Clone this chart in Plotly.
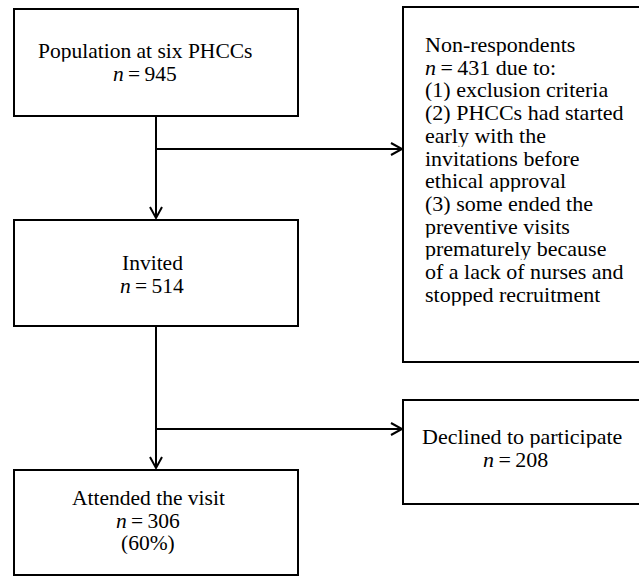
import plotly.graph_objects as go

# ---- data ----
stage_labels = ["Population at six PHCCs", "Invited", "Attended the visit"]
stage_n = [945, 514, 306]
attended_pct = ["(60%)"]
nonresp_n = [431]
nonresp_reasons = [
    "(1) exclusion criteria",
    "(2) PHCCs had started",
    "early with the",
    "invitations before",
    "ethical approval",
    "(3) some ended the",
    "preventive visits",
    "prematurely because",
    "of a lack of nurses and",
    "stopped recruitment",
]
declined_label = ["Declined to participate"]
declined_n = [208]

# ---- layout geometry (pixels of the 639x576 window) ----
W, H = 639, 576
FAM = "Liberation Serif, Times New Roman, serif"
FONT_L = dict(family=FAM, size=21.5, color="black")
FONT_R = dict(family=FAM, size=22, color="black")
LW = 2
LINE_H = 22.7

def nlabel(v):
    return "<i>n</i>\u2009=\u2009" + str(v)

fig = go.Figure()
shapes = []
annotations = []

def box(x0, y0, x1, y1):
    shapes.append(dict(type="rect", x0=x0, y0=y0, x1=x1, y1=y1, xref="x", yref="y",
                       line=dict(color="black", width=LW), fillcolor="rgba(0,0,0,0)"))

def line(x0, y0, x1, y1):
    shapes.append(dict(type="line", x0=x0, y0=y0, x1=x1, y1=y1, xref="x", yref="y",
                       line=dict(color="black", width=LW)))

def arrow_down(x, y):
    shapes.append(dict(type="path", path=f"M {x-6},{y-11} L {x},{y} L {x+6},{y-11}",
                       xref="x", yref="y", line=dict(color="black", width=LW)))

def arrow_right(x, y):
    shapes.append(dict(type="path", path=f"M {x-11},{y-6} L {x},{y} L {x-11},{y+6}",
                       xref="x", yref="y", line=dict(color="black", width=LW)))

def text(x, y, s, font, align="center"):
    annotations.append(dict(x=x, y=y, xref="x", yref="y", text=s, showarrow=False,
                            xanchor={"center": "center", "left": "left"}[align],
                            yanchor="middle", font=font, height=LINE_H - 1,
                            borderpad=0))

# left column boxes
left_boxes = [(14, 9, 298, 116), (14, 220, 298, 326), (14, 470, 298, 575)]
centers = [145, 152, 148]
first_line_y = [51, 263, 498]
for (x0, y0, x1, y1), cx, fy, lab, n in zip(left_boxes, centers, first_line_y, stage_labels, stage_n):
    box(x0, y0, x1, y1)
    text(cx, fy, lab, FONT_L)
    text(cx, fy + LINE_H, nlabel(n), FONT_L)
text(centers[2], first_line_y[2] + 2 * LINE_H, attended_pct[0], FONT_L)

# right boxes (extend past the right edge)
box(403, 7, 700, 362)
box(403, 400, 700, 504)

nr_lines = ["Non-respondents", nlabel(nonresp_n[0]) + " due to:"] + nonresp_reasons
for i, s in enumerate(nr_lines):
    text(424, 45 + i * LINE_H, s, FONT_R, align="left")

text(421, 437, declined_label[0], FONT_R, align="left")
text(482, 437 + LINE_H, nlabel(declined_n[0]), FONT_R, align="left")

# connectors
cx = 156
line(cx, 116, cx, 218)
arrow_down(cx, 218)
line(cx, 149, 402, 149)
arrow_right(402, 149)
line(cx, 326, cx, 468)
arrow_down(cx, 468)
line(cx, 429, 402, 429)
arrow_right(402, 429)

fig.update_layout(
    width=W, height=H,
    margin=dict(l=0, r=0, t=0, b=0),
    paper_bgcolor="white", plot_bgcolor="white",
    xaxis=dict(range=[0, W], visible=False, fixedrange=True),
    yaxis=dict(range=[H, 0], visible=False, fixedrange=True),
    shapes=shapes, annotations=annotations, showlegend=False,
)
fig.write_html(
    "out.html",
    config={"displayModeBar": False},
    post_script="document.body.style.margin='0px';document.body.style.overflow='hidden';",
)
